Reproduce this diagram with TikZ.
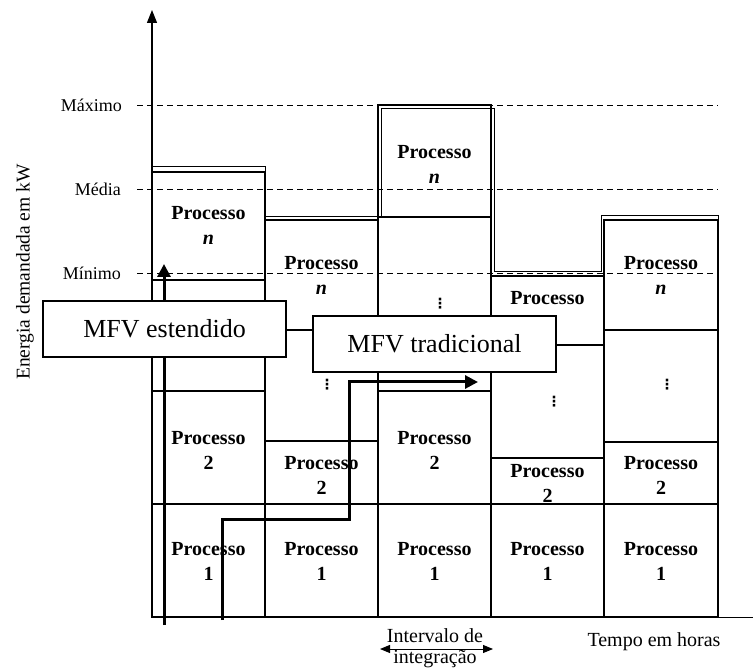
\documentclass[tikz,border=0pt]{standalone}
\usepackage{fontspec}
\setmainfont{Liberation Serif}
\newfontfamily\dejavu{DejaVu Sans}
\usetikzlibrary{arrows.meta}
\begin{document}
\begin{tikzpicture}[x=1pt,y=-1pt,
  cellline/.style={line width=1.2pt},
  profile/.style={line width=1pt},
  level/.style={dashed,dash pattern=on 6pt off 4pt,line width=0.9pt},
  lvllabel/.style={anchor=east,inner sep=0pt,font=\fontsize{18}{20}\selectfont},
  cellt/.style={align=center,inner sep=0pt,font=\fontsize{20}{25}\selectfont\bfseries},
  dotsn/.style={inner sep=0pt,font=\fontsize{14}{16}\dejavu\bfseries},
  callout/.style={draw,fill=white,line width=1.5pt,inner sep=0pt,font=\fontsize{26}{28}\selectfont},
  thickarrow/.style={line width=3pt,-{Triangle[length=13pt,width=13pt]}},
  plain/.style={inner sep=0pt,font=\fontsize{20}{22}\selectfont}]
\useasboundingbox (0,0) rectangle (753,668);
% columns (cells)
\draw[cellline] (152,172) rectangle (265,617);
\draw[cellline] (152,280) -- (265,280) (152,391) -- (265,391) (152,504) -- (265,504);
\draw[cellline] (265,220) rectangle (378,617);
\draw[cellline] (265,330) -- (378,330) (265,441) -- (378,441) (265,504) -- (378,504);
\draw[cellline] (378,105) rectangle (491,617);
\draw[cellline] (378,217) -- (491,217) (378,391) -- (491,391) (378,504) -- (491,504);
\draw[cellline] (491,276) rectangle (604,617);
\draw[cellline] (491,345) -- (604,345) (491,458) -- (604,458) (491,504) -- (604,504);
\draw[cellline] (604,220) rectangle (718,617);
\draw[cellline] (604,330) -- (718,330) (604,442) -- (718,442) (604,504) -- (718,504);
% load profile (double outline)
\draw[profile] (152,167) -- (265,167) -- (265,217) -- (381,217) -- (381,109) -- (494,109) -- (494,272) -- (601,272) -- (601,216) -- (718,216) -- (718,617);
% axes
\coordinate (yb) at (152,617);
\coordinate (yt) at (152,10);
\coordinate (xe) at (753,617);
\draw[line width=1.2pt,-{Triangle[length=13pt,width=10pt]}] (yb) -- (yt);
\draw[line width=1pt] (yb) -- (xe);
\draw[line width=2.4pt] (152,617) -- (718,617);
% level lines
\node[lvllabel] (max) at (122,105) {Máximo};
\node[lvllabel] (med) at (121,189) {Média};
\node[lvllabel] (min) at (121,273) {Mínimo};
\coordinate (maxe) at (718,105);
\coordinate (mede) at (718,189);
\coordinate (mine) at (718,273);
\draw[level] (137,105) -- (maxe);
\draw[level] (137,189) -- (mede);
\draw[level] (137,273) -- (mine);
% cell texts
\node[cellt] (p1a) at (208.5,561.5) {Processo\\1};
\node[cellt] (p1b) at (321.5,561.5) {Processo\\1};
\node[cellt] (p1c) at (434.5,561.5) {Processo\\1};
\node[cellt] (p1d) at (547.5,561.5) {Processo\\1};
\node[cellt] (p1e) at (661,561.5) {Processo\\1};
\node[cellt] (p2a) at (208.5,450) {Processo\\2};
\node[cellt] (p2b) at (321.5,475) {Processo\\2};
\node[cellt] (p2c) at (434.5,450) {Processo\\2};
\node[cellt] (p2d) at (547.5,483.5) {Processo\\2};
\node[cellt] (p2e) at (661,475.5) {Processo\\2};
\node[cellt] (pna) at (208.5,225) {Processo\\\textit{n}};
\node[cellt] (pnb) at (321.5,275) {Processo\\\textit{n}};
\node[cellt] (pnc) at (434.5,164) {Processo\\\textit{n}};
\node[cellt] (pnd) at (547.5,298) {Processo};
\node[cellt] (pne) at (661,275.5) {Processo\\\textit{n}};
\node[dotsn] (db) at (327,385) {⋮};
\node[dotsn] (dc) at (440,304) {⋮};
\node[dotsn] (dd) at (554,402) {⋮};
\node[dotsn] (de) at (667,385) {⋮};
% MFV paths
\coordinate (es0) at (164,625);
\coordinate (es1) at (164,264);
\draw[thickarrow] (es0) -- (es1);
\coordinate (tr0) at (222,620);
\coordinate (tr1) at (222,519);
\coordinate (tr2) at (349,519);
\coordinate (tr3) at (349,382);
\coordinate (tr4) at (478,382);
\draw[thickarrow,line join=miter] (tr0) -- (tr1) -- (tr2) -- (tr3) -- (tr4);
% callouts
\node[callout,minimum width=243pt,minimum height=56pt] (mfve) at (164.5,329) {MFV estendido};
\node[callout,minimum width=243pt,minimum height=56pt] (mfvt) at (434.5,344) {MFV tradicional};
% y label
\node[plain,rotate=90,font=\fontsize{19.5}{22}\selectfont] (ylab) at (25,272) {Energia demandada em kW};
% bottom labels
\node[plain] (int1) at (435,636) {Intervalo de};
\node[plain] (int2) at (435,659) {integração};
\coordinate (ia) at (380,649);
\coordinate (ib) at (493,649);
\draw[line width=1pt,{Triangle[length=10pt,width=8pt]}-{Triangle[length=10pt,width=8pt]}] (ia) -- (ib);
\node[plain] (tempo) at (654,642) {Tempo em horas};
\end{tikzpicture}
\end{document}
